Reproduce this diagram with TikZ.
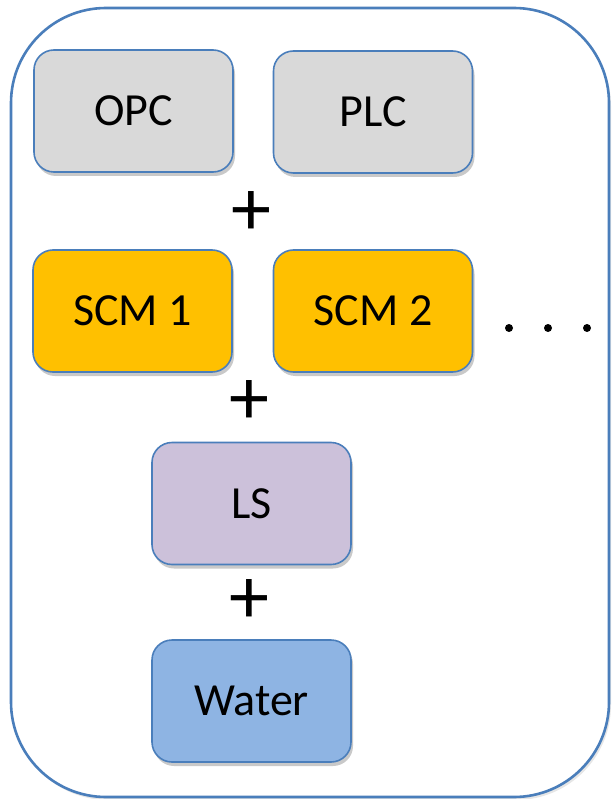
\documentclass[tikz,border=0pt]{standalone}
\usepackage{fontspec}
\setmainfont{Carlito}
\usetikzlibrary{shadows}
\definecolor{edgeblue}{HTML}{4A7EBB}
\definecolor{boxgray}{HTML}{D9D9D9}
\definecolor{boxgold}{HTML}{FFC000}
\definecolor{boxlilac}{HTML}{CCC1DA}
\definecolor{boxblue}{HTML}{8EB4E3}
\tikzset{
  unit/.style={draw=edgeblue, line width=1.6pt, rounded corners=20pt,
    minimum width=199pt, minimum height=122pt, inner sep=0pt,
    font=\fontsize{46}{52}\selectfont,
    drop shadow={shadow xshift=2pt, shadow yshift=-4pt, opacity=0.35, fill=black!60}},
  plus/.style={font=\fontsize{80}{80}\selectfont, inner sep=0pt},
  dotmark/.style={circle, fill=black, inner sep=0pt, minimum size=8pt}
}
\begin{document}
\begin{tikzpicture}[x=1pt, y=-1pt]
  \useasboundingbox (0,0) rectangle (611,799);
  % enclosing frame
  \draw[edgeblue, line width=2.6pt, rounded corners=95pt,
        drop shadow={shadow xshift=2pt, shadow yshift=-3pt, opacity=0.2, fill=black!50}, fill=white]
    (11,8) rectangle (609,797);
  % first row
  \node[unit, fill=boxgray] (opc) at (133.5,111) {OPC};
  \node[unit, fill=boxgray] (plc) at (373,112) {PLC};
  \node[plus] (p1) at (251,214) {+};
  % second row
  \node[unit, fill=boxgold] (scm1) at (132.5,311) {SCM 1};
  \node[unit, fill=boxgold] (scm2) at (373,311) {SCM 2};
  \node[dotmark] (d1) at (509,328) {};
  \node[dotmark] (d2) at (548,328) {};
  \node[dotmark] (d3) at (587,328) {};
  \node[plus] (p2) at (249,403) {+};
  % third row
  \node[unit, fill=boxlilac] (ls) at (251.5,503.5) {LS};
  \node[plus] (p3) at (249,602) {+};
  % fourth row
  \node[unit, fill=boxblue] (water) at (251.5,701) {Water};
\end{tikzpicture}
\end{document}
